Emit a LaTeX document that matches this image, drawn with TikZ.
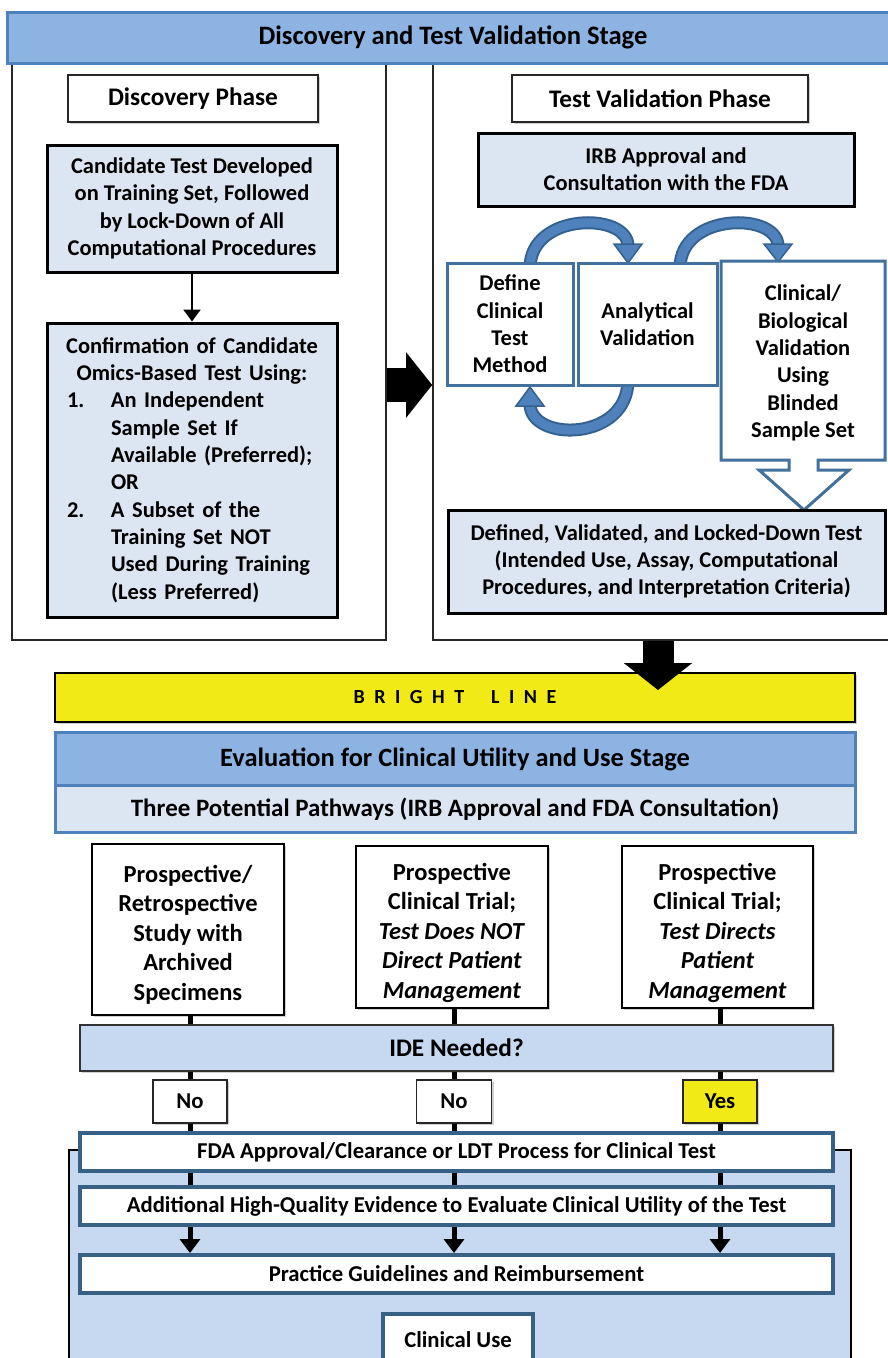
\documentclass[tikz,border=0pt]{standalone}
\usepackage{fontspec}
\setmainfont{Carlito}
\usetikzlibrary{arrows.meta,shadows}
\definecolor{bannerblue}{HTML}{8DB3E2}
\definecolor{bannerline}{HTML}{4F81BD}
\definecolor{lightbox}{HTML}{DCE6F2}
\definecolor{idefill}{HTML}{C6D9F1}
\definecolor{boxblue}{HTML}{41719C}
\definecolor{arcblue}{HTML}{4F81BD}
\definecolor{arcdark}{HTML}{35618F}
\definecolor{brightyellow}{HTML}{F2EA16}
\begin{document}
\begin{tikzpicture}[x=1pt,y=-1pt,
  every node/.style={inner sep=0pt, align=center},
  fbody/.style={font=\bfseries\fontsize{22.5}{27.3}\selectfont},
  ftitle/.style={font=\bfseries\fontsize{25.3}{29}\selectfont},
  fbottom/.style={font=\bfseries\fontsize{22.7}{26}\selectfont},
  fpath/.style={font=\bfseries\fontsize{24.5}{29.5}\selectfont},
  shade/.style={drop shadow={shadow xshift=2pt,shadow yshift=-2pt,fill=black!30,opacity=0.6}},
  banner/.style={draw=bannerline, line width=3pt, fill=bannerblue, font=\bfseries\fontsize{26.6}{30}\selectfont},
  panel/.style={draw=black!85, line width=1.6pt, fill=white},
  phasebox/.style={draw=black!85, line width=1.8pt, fill=white, shade, ftitle},
  lbox/.style={draw=black, line width=3pt, fill=lightbox, fbody},
  vbox/.style={draw=boxblue, line width=3pt, fill=white, fbody},
  thinarrow/.style={line width=2.8pt, -{Triangle[width=17pt,length=12pt]}},
  bigarrowR/.style={line width=34pt, -{Triangle[width=64pt,length=26pt]}},
  bigarrowD/.style={line width=31pt, -{Triangle[width=67pt,length=27pt]}},
  brightbox/.style={draw=black, line width=2pt, fill=brightyellow, shade, font=\bfseries\fontsize{20}{24}\selectfont},
  evalbox/.style={draw=bannerline, line width=3pt, fill=bannerblue, font=\bfseries\fontsize{26.4}{30}\selectfont},
  pathsbox/.style={draw=bannerline, line width=3pt, fill=lightbox, font=\bfseries\fontsize{25}{29}\selectfont},
  pbox/.style={draw=black, line width=2.5pt, fill=white, shade, fpath},
  idebox/.style={draw=black!80, line width=2pt, fill=idefill, shade, font=\bfseries\fontsize{25.3}{29}\selectfont},
  ynbox/.style={draw=black!85, line width=1.5pt, fill=white, shade, font=\bfseries\fontsize{22.7}{26}\selectfont},
  bgframe/.style={draw=black, line width=2pt, fill=idefill},
  bbox/.style={draw=boxblue!85!black, line width=4pt, fill=white, fbottom},
  conn/.style={line width=5pt},
  connarrow/.style={line width=5pt, -{Triangle[width=20pt,length=14pt]}},
  arcouter/.style={draw=arcdark, line width=13pt},
  arcinner/.style={draw=arcblue, line width=9pt},
  archead/.style={fill=arcblue, draw=arcdark, line width=1.5pt, line join=miter}
]
\useasboundingbox (0,0) rectangle (887,1358);
\fill[white] (0,0) rectangle (887,1358);

% ---------- upper stage ----------
\node[panel, minimum width=374pt, minimum height=577pt] (leftpanel) at (199,351.5) {};
\node[panel, minimum width=466pt, minimum height=577pt] (rightpanel) at (666,351.5) {};
\node[banner, minimum width=892pt, minimum height=51pt] (banner) at (453,37.5) {Discovery and Test Validation Stage};

\node[phasebox, minimum width=250pt, minimum height=47pt] (discphase) at (193,98.5) {Discovery Phase};
\node[phasebox, minimum width=296pt, minimum height=47pt] (tvphase) at (660,98.5) {Test Validation Phase};

\node[lbox, minimum width=290pt, minimum height=127pt] (cand) at (192,208.5)
  {Candidate Test Developed\\on Training Set, Followed\\by Lock-Down of All\\Computational Procedures};
\node[lbox, minimum width=290pt, minimum height=294pt, text width=250pt, align=left] (confirm) at (192,470)
  {\makebox[250pt]{Confirmation of Candidate}\\
   \makebox[250pt]{Omics-Based Test Using:}\\
   \makebox[44pt][l]{1.}An Independent\\
   \hspace*{44pt}Sample Set If\\
   \hspace*{44pt}Available (Preferred);\\
   \hspace*{44pt}OR\\
   \makebox[44pt][l]{2.}A Subset of the\\
   \hspace*{44pt}Training Set NOT\\
   \hspace*{44pt}Used During Training\\
   \hspace*{44pt}(Less Preferred)};
\draw[thinarrow] (cand.south) -- (confirm.north);

\node[lbox, minimum width=376pt, minimum height=73pt] (irb) at (666,169.5)
  {IRB Approval and\\Consultation with the FDA};

% curved arrows (drawn under the boxes)
\coordinate (a1s) at (530,268); \coordinate (a1e) at (628,246);
\coordinate (a2s) at (680,268); \coordinate (a2e) at (778,246);
\coordinate (a3s) at (628,380); \coordinate (a3e) at (530,404);
\foreach \st in {arcouter,arcinner}{
  \draw[\st] (a1s) .. controls (530,212) and (628,212) .. (a1e);
  \draw[\st] (a2s) .. controls (680,212) and (778,212) .. (a2e);
  \draw[\st] (a3s) .. controls (628,442) and (530,442) .. (a3e);
}
\draw[archead] (614,244) -- (642,244) -- (628,263) -- cycle;
\draw[archead] (764,244) -- (792,244) -- (778,262) -- cycle;
\draw[archead] (516,406) -- (544,406) -- (530,387) -- cycle;

\node[vbox, minimum width=126pt, minimum height=122pt] (define) at (510,324)
  {Define\\Clinical\\Test\\Method};
\node[vbox, minimum width=139pt, minimum height=122pt] (analyt) at (647.5,324)
  {Analytical\\Validation};
\draw[draw=boxblue, line width=3pt, fill=white, line join=miter]
  (721,261) -- (885,261) -- (885,460) -- (818,460) -- (818,470) -- (849,470)
  -- (804,510) -- (759,470) -- (789,470) -- (789,460) -- (721,460) -- cycle;
\node[fbody] (clinval) at (803,363)
  {Clinical/\\Biological\\Validation\\Using\\Blinded\\Sample Set};

\node[lbox, minimum width=437pt, minimum height=103pt] (defined) at (666.5,561.5)
  {Defined, Validated, and Locked-Down Test\\(Intended Use, Assay, Computational\\Procedures, and Interpretation Criteria)};

% big black arrows
\coordinate (ry) at (0,385);
\draw[bigarrowR] (leftpanel.east |- ry) -- (rightpanel.west |- ry);

% ---------- bright line & evaluation stage ----------
\node[brightbox, minimum width=800pt, minimum height=49pt] (bright) at (455,697.5)
  {B\hspace{9.5pt}R\hspace{9.5pt}I\hspace{9.5pt}G\hspace{9.5pt}H\hspace{9.5pt}T\hspace{27pt}L\hspace{9.5pt}I\hspace{9.5pt}N\hspace{9.5pt}E};
\coordinate (dtip) at (658,690);
\draw[bigarrowD] (rightpanel.south -| dtip) -- (dtip);

\node[evalbox, minimum width=800pt, minimum height=53pt] (eval) at (455,759)
  {Evaluation for Clinical Utility and Use Stage};
\node[pathsbox, minimum width=800pt, minimum height=47pt] (paths) at (455,809)
  {Three Potential Pathways (IRB Approval and FDA Consultation)};

\node[pbox, minimum width=192pt, minimum height=171pt] (p1) at (188,929.5)
  {\rule{0pt}{27pt}Prospective/\\Retrospective\\Study with\\Archived\\Specimens};
\node[pbox, minimum width=192pt, minimum height=162pt] (p2) at (452,927)
  {\rule{0pt}{29pt}Prospective\\Clinical Trial;\\\textit{Test Does NOT}\\\textit{Direct Patient}\\\textit{Management}};
\node[pbox, minimum width=191pt, minimum height=162pt] (p3) at (717.5,927)
  {\rule{0pt}{29pt}Prospective\\Clinical Trial;\\\textit{Test Directs}\\\textit{Patient}\\\textit{Management}};

\node[idebox, minimum width=753pt, minimum height=46pt] (ide) at (456.5,1048) {IDE Needed?};
\node[ynbox, minimum width=74pt, minimum height=43pt] (no1) at (190,1101.5) {No};
\node[ynbox, minimum width=75pt, minimum height=43pt] (no2) at (454,1101.5) {No};
\node[ynbox, fill=brightyellow, minimum width=74pt, minimum height=43pt] (yes) at (720,1101.5) {Yes};

\foreach \b/\c in {p1/no1,p2/no2,p3/yes}{
  \draw[conn] (\b.south -| \c) -- (ide.north -| \c);
  \draw[conn] (ide.south -| \c) -- (\c.north);
}

\node[bgframe, anchor=north west, minimum width=782pt, minimum height=240pt] (frame) at (68,1149) {};
\node[bbox, minimum width=753pt, minimum height=38pt] (fda) at (456.5,1152)
  {FDA Approval/Clearance or LDT Process for Clinical Test};
\node[bbox, minimum width=753pt, minimum height=38pt] (addl) at (456.5,1206)
  {Additional High-Quality Evidence to Evaluate Clinical Utility of the Test};
\node[bbox, minimum width=753pt, minimum height=38pt] (practice) at (456.5,1274)
  {Practice Guidelines and Reimbursement};
\node[bbox, minimum width=150pt, minimum height=52pt] (clinuse) at (458,1340)
  {Clinical Use};

\foreach \c in {no1,no2,yes}{
  \draw[conn] (\c.south) -- (fda.north -| \c);
  \draw[conn] (fda.south -| \c) -- (addl.north -| \c);
  \draw[connarrow] (addl.south -| \c) -- (practice.north -| \c);
}
\end{tikzpicture}
\end{document}
